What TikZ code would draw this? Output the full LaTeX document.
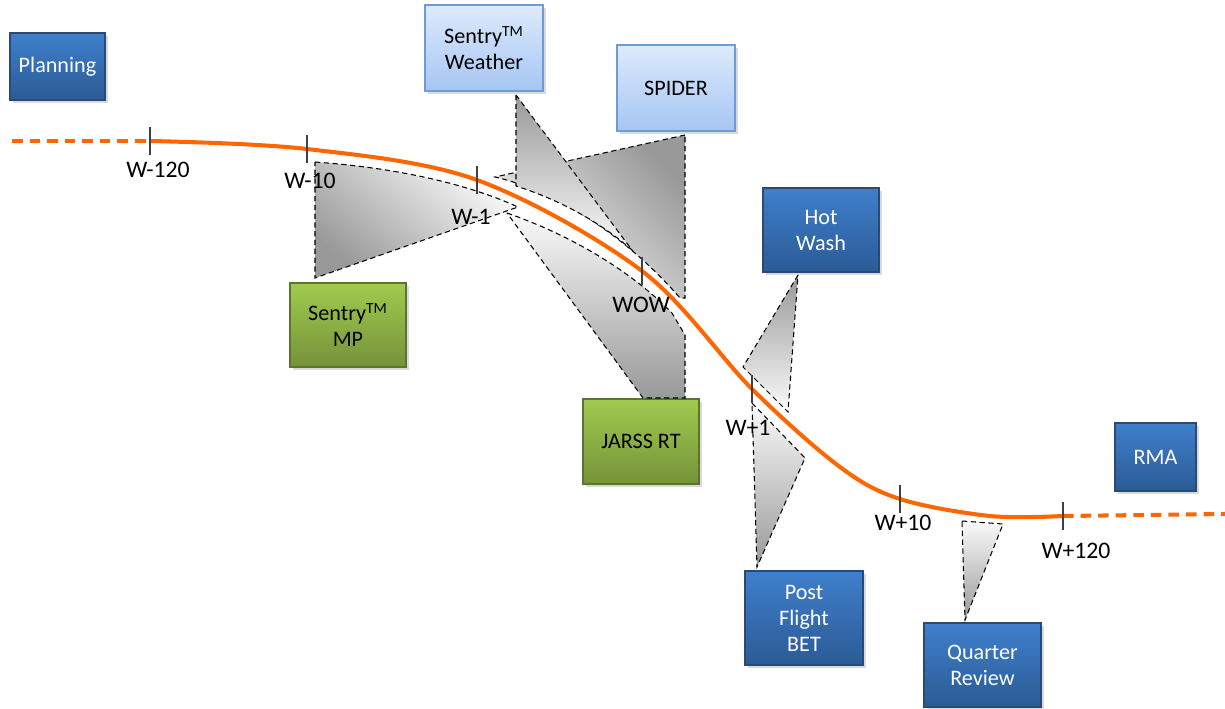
\documentclass[tikz,border=0pt]{standalone}
\usepackage{fontspec}
\setmainfont{Carlito}
\usetikzlibrary{shadows}
\definecolor{orangeline}{HTML}{FF6600}
\definecolor{dbtop}{HTML}{3F7FCC}
\definecolor{dbbot}{HTML}{2B5B95}
\definecolor{dbedge}{HTML}{2A4A73}
\definecolor{lbtop}{HTML}{DDEAFC}
\definecolor{lbbot}{HTML}{A6C5F3}
\definecolor{lbedge}{HTML}{6E9BD6}
\definecolor{grtop}{HTML}{9FCB4E}
\definecolor{grbot}{HTML}{76923A}
\definecolor{gredge}{HTML}{5B7530}
\definecolor{wdark}{HTML}{999999}
\definecolor{wlight}{HTML}{FAFAFA}
\definecolor{tickgray}{HTML}{404040}

\begin{document}
\begin{tikzpicture}[x=0.02cm,y=-0.02cm]
            \tikzset{
                box/.style={align=center, font=\fontsize{12.6}{14.8}\selectfont, line width=0.8pt, inner sep=0pt,
                    drop shadow={opacity=0.3, shadow xshift=0.06cm, shadow yshift=-0.06cm}},
                darkbox/.style={box, draw=dbedge, top color=dbtop, bottom color=dbbot, text=white},
                lightbox/.style={box, draw=lbedge, top color=lbtop, bottom color=lbbot, text=black},
                greenbox/.style={box, draw=gredge, top color=grtop, bottom color=grbot, text=black},
                callout/.style={draw=black, line width=0.6pt, dash pattern=on 3pt off 2pt},
                tick/.style={draw=tickgray, line width=1.6pt},
                tlabel/.style={font=\fontsize{13.5}{16}\selectfont, inner sep=0pt},
                mission/.style={draw=orangeline, line width=2.3pt}
            }
            \useasboundingbox (0,0) rectangle (1225,708);

            % boxes
            \node[darkbox, minimum width=1.9cm, minimum height=1.34cm] (planning) at (57.5,66.5) {Planning};
            \node[lightbox, minimum width=2.36cm, minimum height=1.72cm] (weather) at (484,48) {Sentry\textsuperscript{TM}\\Weather};
            \node[lightbox, minimum width=2.36cm, minimum height=1.72cm] (spider) at (676,88) {SPIDER};
            \node[darkbox, minimum width=2.32cm, minimum height=1.68cm] (hotwash) at (821,230) {Hot\\Wash};
            \node[darkbox, minimum width=1.62cm, minimum height=1.36cm] (rma) at (1155.5,457) {RMA};
            \node[greenbox, minimum width=2.32cm, minimum height=1.68cm] (mp) at (348,325) {Sentry\textsuperscript{TM}\\MP};
            \node[greenbox, minimum width=2.32cm, minimum height=1.7cm] (jarss) at (641,441.5) {JARSS RT};
            \node[darkbox, minimum width=2.36cm, minimum height=1.88cm] (bet) at (804,618) {Post\\Flight\\BET};
            \node[darkbox, minimum width=2.34cm, minimum height=1.68cm] (quarter) at (982.5,665) {Quarter\\Review};

            % callouts
            \draw[callout, top color=wdark, bottom color=wlight, shading angle=-45]
                (685,135) -- (495,177) .. controls (560,192) and (630,240) .. (680,298) -- (685,298) -- cycle;
            \draw[callout, top color=wdark, bottom color=wlight]
                (516,95) -- (516,186) .. controls (560,200) and (600,222) .. (632,250) -- cycle;
            \draw[callout, top color=wlight, bottom color=wdark, shading angle=-40]
                (315,162) .. controls (400,168) and (470,185) .. (518,207) -- (315,278) -- cycle;
            \draw[callout, top color=wlight, bottom color=wdark]
                (507,213) .. controls (570,235) and (630,270) .. (672,313) -- (685,335) -- (685,398) -- (643,398) -- cycle;
            \draw[callout, top color=wdark, bottom color=wlight]
                (798,275) -- (743,367) -- (788,412) -- cycle;
            \draw[callout, top color=wlight, bottom color=wdark]
                (752,403) -- (805,458) -- (757,567) -- cycle;
            \draw[callout, top color=wlight, bottom color=wdark]
                (962,521) -- (1003,524) -- (965,620) -- cycle;

            % mission line
            \coordinate (wm120) at (150,141);
            \coordinate (wm10) at (307,149);
            \coordinate (wm1) at (477,180);
            \coordinate (wow) at (642,271);
            \coordinate (wp1) at (752,389);
            \coordinate (bend) at (840,467);
            \coordinate (wp10) at (900,499);
            \coordinate (flat) at (990,516);
            \coordinate (wp120) at (1063,516);
            \coordinate (start) at (12,141);
            \coordinate (end) at (1225,514);
            \draw[white, line width=5pt] plot[smooth, tension=0.55] coordinates {(wm120) (wm10) (wm1) (wow) (wp1) (bend) (wp10) (flat) (wp120)};
            \draw[mission] plot[smooth, tension=0.55] coordinates {(wm120) (wm10) (wm1) (wow) (wp1) (bend) (wp10) (flat) (wp120)};
            \draw[mission, dash pattern=on 6pt off 4pt] (start) -- (wm120);
            \draw[mission, dash pattern=on 6pt off 4pt] (wp120) -- (end);

            % ticks
            \foreach \t in {wm120,wm10,wm1,wow,wp1,wp10,wp120}
                \draw[tick] (\t) ++(0,-14) -- ++(0,28);
            \node[tlabel] (lwm120) at (158,170) {W-120};
            \node[tlabel] (lwm10) at (310,181) {W-10};
            \node[tlabel] (lwm1) at (471,217) {W-1};
            \node[tlabel] (lwow) at (641,305) {WOW};
            \node[tlabel] (lwp1) at (748,428) {W+1};
            \node[tlabel] (lwp10) at (903,523) {W+10};
            \node[tlabel] (lwp120) at (1076,551) {W+120};
\end{tikzpicture}
\end{document}
